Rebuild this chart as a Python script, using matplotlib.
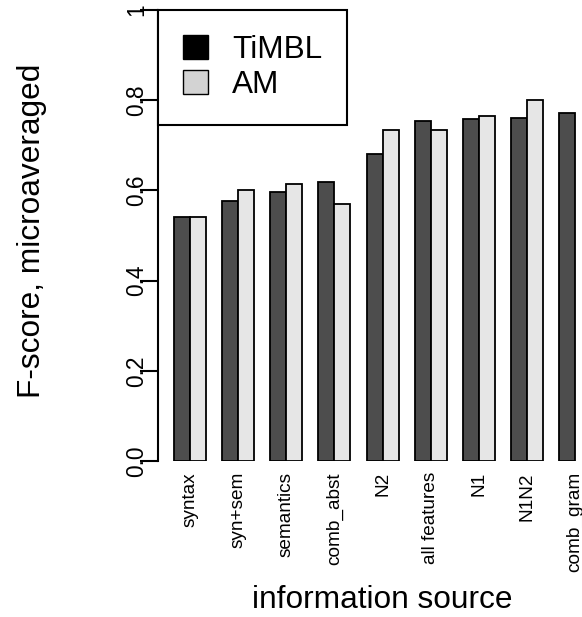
import numpy as np
import matplotlib
matplotlib.use("Agg")
import matplotlib.pyplot as plt
from matplotlib.patches import Patch

plt.rcParams['font.family'] = ['Liberation Sans', 'DejaVu Sans']

# data
categories = ["syntax", "syn+sem", "semantics", "comb_abst", "N2",
              "all features", "N1", "N1N2", "comb_gram"]
timbl = [0.540, 0.577, 0.596, 0.619, 0.680, 0.754, 0.758, 0.761, 0.772]
am = [0.540, 0.601, 0.614, 0.569, 0.735, 0.734, 0.765, 0.800, np.nan]
series_names = ["TiMBL", "AM"]
ytick_vals = [0.0, 0.2, 0.4, 0.6, 0.8, 1.0]
ytick_labels = ["0.0", "0.2", "0.4", "0.6", "0.8", "1"]

W, H = 582, 617
fig = plt.figure(figsize=(W / 100, H / 100), dpi=100)
# plot area in pixels: left spine at x=158, y=0 at 461, y=1 at 10
ax = fig.add_axes([158 / W, (H - 461) / H, 1 - 158 / W, (461 - 10) / H])

# R style barplot: bar width 1, one unit of space between groups
g = np.arange(len(categories))
x_timbl = 1.5 + 3 * g
x_am = 2.5 + 3 * g
ax.bar(x_timbl, timbl, width=1, color="#4D4D4D", edgecolor="black", linewidth=1.3)
ax.bar(x_am, am, width=1, color="#E6E6E6", edgecolor="black", linewidth=1.3)

ax.set_xlim(0, (W - 158) / 16.04)
ax.set_ylim(0, 1)

for s in ["top", "right", "bottom"]:
    ax.spines[s].set_visible(False)
ax.spines["left"].set_linewidth(1.5)
ax.spines["left"].set_bounds(0, 1)

ax.set_yticks(ytick_vals)
ax.set_yticklabels(ytick_labels, rotation=90, va="center", fontsize=16.4)
ax.tick_params(axis="y", length=13, width=1.5, pad=-6)

ax.set_xticks(2 + 3 * g)
ax.set_xticklabels(categories, rotation=90, fontsize=13.7)
ax.tick_params(axis="x", length=0, pad=8)

handles = [Patch(facecolor="black", edgecolor="black", linewidth=1.0),
           Patch(facecolor="#D3D3D3", edgecolor="black", linewidth=1.0)]
leg = ax.legend(handles, series_names, loc="upper left", bbox_to_anchor=(0, 1),
                borderaxespad=0, fontsize=22.7, fancybox=False, framealpha=1,
                handlelength=0.8, handleheight=0.8, handletextpad=0.75,
                borderpad=0.8, labelspacing=0.15)
leg.get_frame().set_edgecolor("black")
leg.get_frame().set_linewidth(1.5)

fig.text(32 / W, 1 - 230.5 / H, "F-score, microaveraged", rotation=90,
         ha="center", va="center", fontsize=22.8)
fig.text(382 / W, 1 - 600 / H, "information source",
         ha="center", va="center", fontsize=22.8)

fig.savefig("out.png", dpi=100)
